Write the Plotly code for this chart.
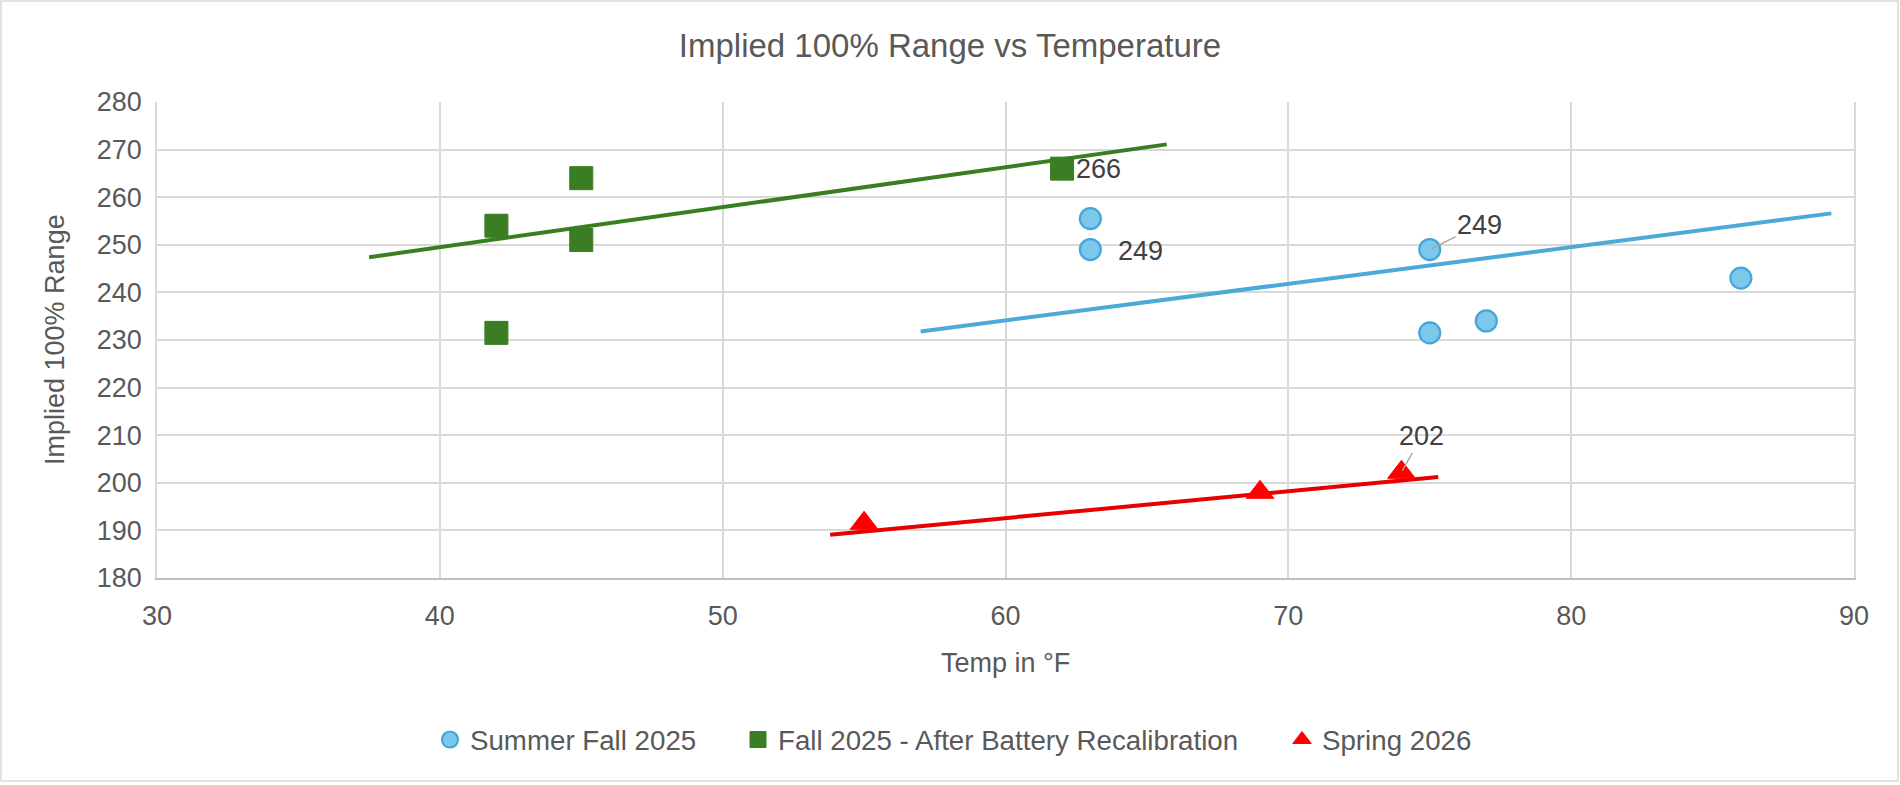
import plotly.graph_objects as go

# ---- data ----
summer_temp = [63, 63, 75, 75, 77, 86]
summer_range = [255.5, 249, 249, 231.5, 234, 243]

fall_temp = [42, 42, 45, 45, 62]
fall_range = [254, 231.5, 264, 251, 266]

spring_temp = [55, 69, 74]
spring_range = [191.5, 198, 202.2]

# trendline endpoints as drawn in the reference
summer_trend_x = [57.0, 89.2]
summer_trend_y = [231.8, 256.6]
fall_trend_x = [37.5, 65.7]
fall_trend_y = [247.4, 271.1]
spring_trend_x = [53.8, 75.3]
spring_trend_y = [189.1, 201.2]

x_ticks = [30, 40, 50, 60, 70, 80, 90]
y_ticks = [180, 190, 200, 210, 220, 230, 240, 250, 260, 270, 280]

series_names = ["Summer Fall 2025", "Fall 2025 - After Battery Recalibration", "Spring 2026"]

# labelled points: (x, y, text)
point_labels = [
    (62, 266, "266"),
    (63, 249, "249"),
    (75, 249, "249"),
    (74, 202.2, "202"),
]

FONT = "Liberation Sans, Arial, sans-serif"
GREY = "#595959"
BLUE_FILL = "#7CC7EC"
BLUE_EDGE = "#45A6D6"
BLUE_LINE = "#4BAAD8"
GREEN = "#3B7D23"
RED = "#FF0000"
RED_LINE = "#E60000"

L, R, T, B = 157, 46, 102, 207
W, H = 1900, 785
PW, PH = W - L - R, H - T - B


def px_x(px):
    return (px - L) / PW


def px_y(py):
    return (H - B - py) / PH


fig = go.Figure()

# trendlines
fig.add_trace(go.Scatter(x=summer_trend_x, y=summer_trend_y, mode="lines",
                         line=dict(color=BLUE_LINE, width=4), showlegend=False, hoverinfo="skip"))
fig.add_trace(go.Scatter(x=fall_trend_x, y=fall_trend_y, mode="lines",
                         line=dict(color=GREEN, width=4), showlegend=False, hoverinfo="skip"))
fig.add_trace(go.Scatter(x=spring_trend_x, y=spring_trend_y, mode="lines",
                         line=dict(color=RED_LINE, width=4), showlegend=False, hoverinfo="skip"))

# markers
fig.add_trace(go.Scatter(x=summer_temp, y=summer_range, mode="markers", name=series_names[0],
                         marker=dict(symbol="circle", size=21, color=BLUE_FILL,
                                     line=dict(color=BLUE_EDGE, width=2.2)),
                         legend="legend"))
fig.add_trace(go.Scatter(x=fall_temp, y=fall_range, mode="markers", name=series_names[1],
                         marker=dict(symbol="square", size=23, color=GREEN,
                                     line=dict(color=GREEN, width=1)),
                         legend="legend2"))
fig.add_trace(go.Scatter(x=spring_temp, y=spring_range, mode="markers", name=series_names[2],
                         marker=dict(symbol="triangle-up", size=24, color=RED,
                                     line=dict(color=RED, width=1)),
                         legend="legend3"))

annotations = []
# data labels
lx, ly, lt = point_labels[0]
annotations.append(dict(x=lx, y=ly, text=lt, showarrow=False, xanchor="left", yanchor="middle",
                        xshift=12, font=dict(family=FONT, size=27, color="#404040")))
lx, ly, lt = point_labels[1]
annotations.append(dict(x=lx, y=ly, text=lt, showarrow=False, xanchor="left", yanchor="middle",
                        xshift=26, yshift=-1, font=dict(family=FONT, size=27, color="#404040")))
lx, ly, lt = point_labels[2]
annotations.append(dict(x=lx, y=ly, text=lt, showarrow=True, arrowhead=0, arrowwidth=1.3,
                        arrowcolor="#A6A6A6", ax=50, ay=-25, standoff=2,
                        font=dict(family=FONT, size=27, color="#404040")))
lx, ly, lt = point_labels[3]
annotations.append(dict(x=lx, y=ly, text=lt, showarrow=True, arrowhead=0, arrowwidth=1.3,
                        arrowcolor="#A6A6A6", ax=20, ay=-36, standoff=2,
                        font=dict(family=FONT, size=27, color="#404040")))

# axis titles
annotations.append(dict(xref="paper", yref="paper", x=px_x(55), y=0.5, text="Implied 100% Range",
                        textangle=-90, showarrow=False, xanchor="center", yanchor="middle",
                        font=dict(family=FONT, size=27, color=GREY)))
annotations.append(dict(xref="paper", yref="paper", x=0.5, y=px_y(663), text="Temp in °F",
                        showarrow=False, xanchor="center", yanchor="middle",
                        font=dict(family=FONT, size=27, color=GREY)))

legend_common = dict(orientation="h", yanchor="middle", xanchor="left",
                     font=dict(family=FONT, size=27.7, color=GREY), bgcolor="rgba(0,0,0,0)")

fig.update_layout(
    width=W, height=H,
    margin=dict(l=L, r=R, t=T, b=B),
    paper_bgcolor="white", plot_bgcolor="white",
    font=dict(family=FONT, color=GREY),
    title=dict(text="Implied 100% Range vs Temperature", xref="container", yref="container",
               x=0.5, y=1 - 45 / H, xanchor="center", yanchor="middle",
               font=dict(family=FONT, size=33, color=GREY)),
    xaxis=dict(range=[30, 90], tickvals=x_ticks, ticktext=[str(v) for v in x_ticks],
               showgrid=True, gridcolor="#D9D9D9", gridwidth=1.5, zeroline=False,
               showline=True, linecolor="#BFBFBF", linewidth=2,
               ticks="outside", ticklen=13, tickcolor="rgba(0,0,0,0)",
               tickfont=dict(family=FONT, size=27, color=GREY)),
    yaxis=dict(range=[180, 280], tickvals=y_ticks, ticktext=[str(v) for v in y_ticks],
               showgrid=True, gridcolor="#D9D9D9", gridwidth=1.5, zeroline=False,
               showline=True, linecolor="#D9D9D9", linewidth=1.5, mirror=True,
               ticks="outside", ticklen=8, tickcolor="rgba(0,0,0,0)",
               tickfont=dict(family=FONT, size=27, color=GREY)),
    legend=dict(x=px_x(430), y=px_y(740), **legend_common),
    legend2=dict(x=px_x(738), y=px_y(740), **legend_common),
    legend3=dict(x=px_x(1282), y=px_y(740), **legend_common),
    annotations=annotations,
    shapes=[dict(type="rect", xref="paper", yref="paper",
                 x0=px_x(1), x1=px_x(1898), y0=px_y(781), y1=px_y(1),
                 line=dict(color="#D9D9D9", width=1.5), fillcolor="rgba(0,0,0,0)", layer="below")],
)

fig.write_html("out.html")
